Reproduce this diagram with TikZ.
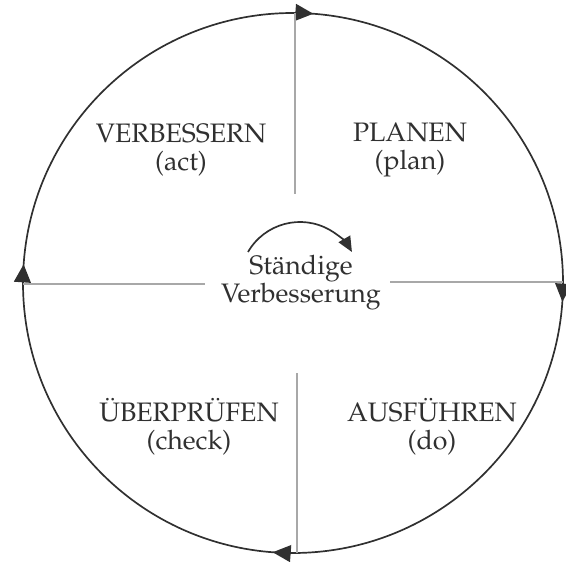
\documentclass[tikz,border=0pt]{standalone}
\usepackage[T1]{fontenc}
\usepackage{mathpazo}
\usetikzlibrary{arrows.meta,decorations.markings}
\definecolor{inkgray}{HTML}{303030}
\definecolor{rulegray}{HTML}{A8A8A8}
\begin{document}
\begin{tikzpicture}[x=0.25mm,y=0.25mm,
  cycletip/.tip={Triangle[length=4.5mm,width=4.2mm]},
  ring/.style={draw=inkgray,line width=1.2pt},
  divider/.style={draw=rulegray,line width=0.8pt},
  phase/.style={align=center,text=inkgray,font=\fontsize{19}{20}\selectfont}]
  \useasboundingbox (0,0) rectangle (566,561);

  % outer cycle, running clockwise
  \draw[ring,postaction={decorate},decoration={markings,
      mark=at position 0.012 with {\arrow{cycletip}},
      mark=at position 0.261 with {\arrow{cycletip}},
      mark=at position 0.512 with {\arrow{cycletip}},
      mark=at position 0.761 with {\arrow{cycletip}}}]
    (293,548) arc[start angle=90,end angle=-270,radius=270];

  \coordinate (n) at (295,548);  \coordinate (nin) at (295,367);
  \coordinate (s) at (297,8);    \coordinate (sin) at (297,188);
  \coordinate (w) at (23,277);   \coordinate (win) at (205,277);
  \coordinate (e) at (563,279);  \coordinate (ein) at (390,279);

  \draw[divider] (n) -- (nin);
  \draw[divider] (s) -- (sin);
  \draw[divider] (w) -- (win);
  \draw[divider] (e) -- (ein);

  \node[phase] (act)   at (181,411) {VERBESSERN\\(act)};
  \node[phase] (plan)  at (410,411) {PLANEN\\(plan)};
  \node[phase] (check) at (189,134) {\"UBERPR\"UFEN\\(check)};
  \node[phase] (do)    at (432,134) {AUSF\"UHREN\\(do)};
  \node[phase] (kaizen) at (301,278) {St\"andige\\Verbesserung};

  \draw[inkgray,line width=1.2pt,-{Triangle[length=3.8mm,width=3.3mm]}]
    (248,309) arc[start angle=150,end angle=30,radius=60];
\end{tikzpicture}
\end{document}
